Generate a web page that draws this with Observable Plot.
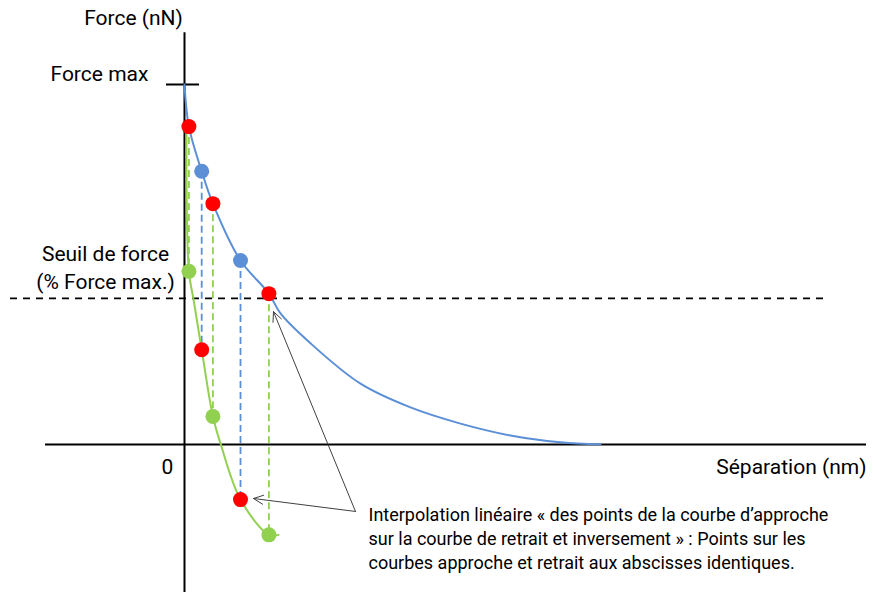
<!DOCTYPE html>
<html>
<head>
<meta charset="utf-8">
<script src="https://cdn.jsdelivr.net/npm/d3@7"></script>
<script src="https://cdn.jsdelivr.net/npm/@observablehq/plot@0.6"></script>
<style>
  html, body { margin: 0; padding: 0; background: #fff; overflow: hidden; }
  #chart svg { display: block; }
</style>
</head>
<body>
<div id="chart"></div>
<script>
// Approach curve (blue): separation (arb. units), force (% of max)
const approachX = [0, 1.1, 4.3, 7.1, 14, 21.1, 24, 31.5, 44, 56.5, 69, 81.5, 94, 104];
const approachY = [100, 88.3, 75.9, 66.9, 51.1, 41.9, 36.4, 28.1, 16.9, 10.3, 5.8, 2.5, 0.6, 0];
// Retract curve (green)
const retractX = [0.5, 1.1, 2.3, 4.3, 7.1, 9, 14, 21.1, 23.5];
const retractY = [87.8, 48.1, 40, 26.3, 7.8, 0.3, -15.3, -25.1, -25.1];

// Points on approach curve
const apBlueX = [4.3, 14];
const apBlueY = [75.9, 51.1];
const apRedX = [1.1, 7.1, 21.1];
const apRedY = [88.3, 66.9, 41.9];
// Points on retract curve
const reGreenX = [1.1, 7.1, 21.1];
const reGreenY = [48.1, 7.8, -25.1];
const reRedX = [4.3, 14];
const reRedY = [26.3, -15.3];

const forceMax = 100;
const threshold = 40.6;

const axisLabels = ["Force (nN)", "Séparation (nm)", "0"];
const annotationLines = [
  "Interpolation linéaire « des points de la courbe d’approche",
  "sur la courbe de retrait et inversement » : Points sur les",
  "courbes approche et retrait aux abscisses identiques."
];

const approach = approachX.map((x, i) => ({x, y: approachY[i]}));
const retract = retractX.map((x, i) => ({x, y: retractY[i]}));
const pts = (xs, ys) => xs.map((x, i) => ({x, y: ys[i]}));
const greenDrops = apRedX.map((x, i) => ({x, y1: apRedY[i], y2: reGreenY[i]}));
const blueDrops = apBlueX.map((x, i) => ({x, y1: apBlueY[i], y2: reRedY[i]}));

const BLUE = "#5B8FD6", GREEN = "#92D050", RED = "#FF0000";
const FONT = "Roboto, 'Open Sans', sans-serif";

const chart = Plot.plot({
  width: 874,
  height: 592,
  margin: 0,
  x: {domain: [-46, 172.5], axis: null},
  y: {domain: [-41.111, 123.333], axis: null},
  style: {fontFamily: FONT, background: "#fff"},
  marks: [
    // axes
    Plot.ruleY([0], {x1: -34.75, x2: 170.5, stroke: "#000", strokeWidth: 2}),
    Plot.ruleX([0], {y1: 114.4, y2: -41.2, stroke: "#000", strokeWidth: 2}),
    Plot.ruleY([forceMax], {x1: -4.5, x2: 3.75, stroke: "#000", strokeWidth: 2}),
    // threshold
    Plot.ruleY([threshold], {x1: -43.5, x2: 161, stroke: "#000", strokeWidth: 1.6, strokeDasharray: "7,6"}),
    // vertical dashed drops
    Plot.ruleX(greenDrops, {x: "x", y1: "y1", y2: "y2", stroke: GREEN, strokeWidth: 1.8, strokeDasharray: "7,4"}),
    Plot.ruleX(blueDrops, {x: "x", y1: "y1", y2: "y2", stroke: BLUE, strokeWidth: 1.8, strokeDasharray: "7,4"}),
    // curves
    Plot.line(approach, {x: "x", y: "y", stroke: BLUE, strokeWidth: 2, curve: "catmull-rom"}),
    Plot.line(retract, {x: "x", y: "y", stroke: GREEN, strokeWidth: 2, curve: "catmull-rom"}),
    // points
    Plot.dot(pts(apBlueX, apBlueY), {x: "x", y: "y", r: 7.5, fill: BLUE}),
    Plot.dot(pts(reGreenX, reGreenY), {x: "x", y: "y", r: 7.5, fill: GREEN}),
    Plot.dot(pts(apRedX, apRedY), {x: "x", y: "y", r: 7.5, fill: RED}),
    Plot.dot(pts(reRedX, reRedY), {x: "x", y: "y", r: 7.5, fill: RED}),
    // arrows
    Plot.arrow([{x1: 42.75, y1: -18.6, x2: 22.25, y2: 36.9}, {x1: 42.75, y1: -18.6, x2: 17.25, y2: -15}],
      {x1: "x1", y1: "y1", x2: "x2", y2: "y2", stroke: "#404040", strokeWidth: 1, headLength: 16, headAngle: 50}),
    // labels
    Plot.text([axisLabels[0]], {x: -12.75, y: 118.3, text: d => d, fontSize: 21, fill: "#000"}),
    Plot.text([axisLabels[1]], {x: 170.5, y: -6.4, text: d => d, fontSize: 21, textAnchor: "end", fill: "#000"}),
    Plot.text([axisLabels[2]], {x: -4.25, y: -6.4, text: d => d, fontSize: 21, fill: "#000"}),
    Plot.text(["Force max"], {x: -33.5, y: 102.8, text: d => d, fontSize: 21, textAnchor: "start", fill: "#000"}),
    Plot.text(["Seuil de force"], {x: -19.75, y: 52.8, text: d => d, fontSize: 21, fill: "#000"}),
    Plot.text(["(% Force max.)"], {x: -19.75, y: 45, text: d => d, fontSize: 21, fill: "#000"}),
    Plot.text(annotationLines, {x: 46, y: (d, i) => -19.7 - i * 6.667, text: d => d, fontSize: 18, textAnchor: "start", fill: "#000"})
  ]
});
document.getElementById("chart").appendChild(chart);
</script>
</body>
</html>
